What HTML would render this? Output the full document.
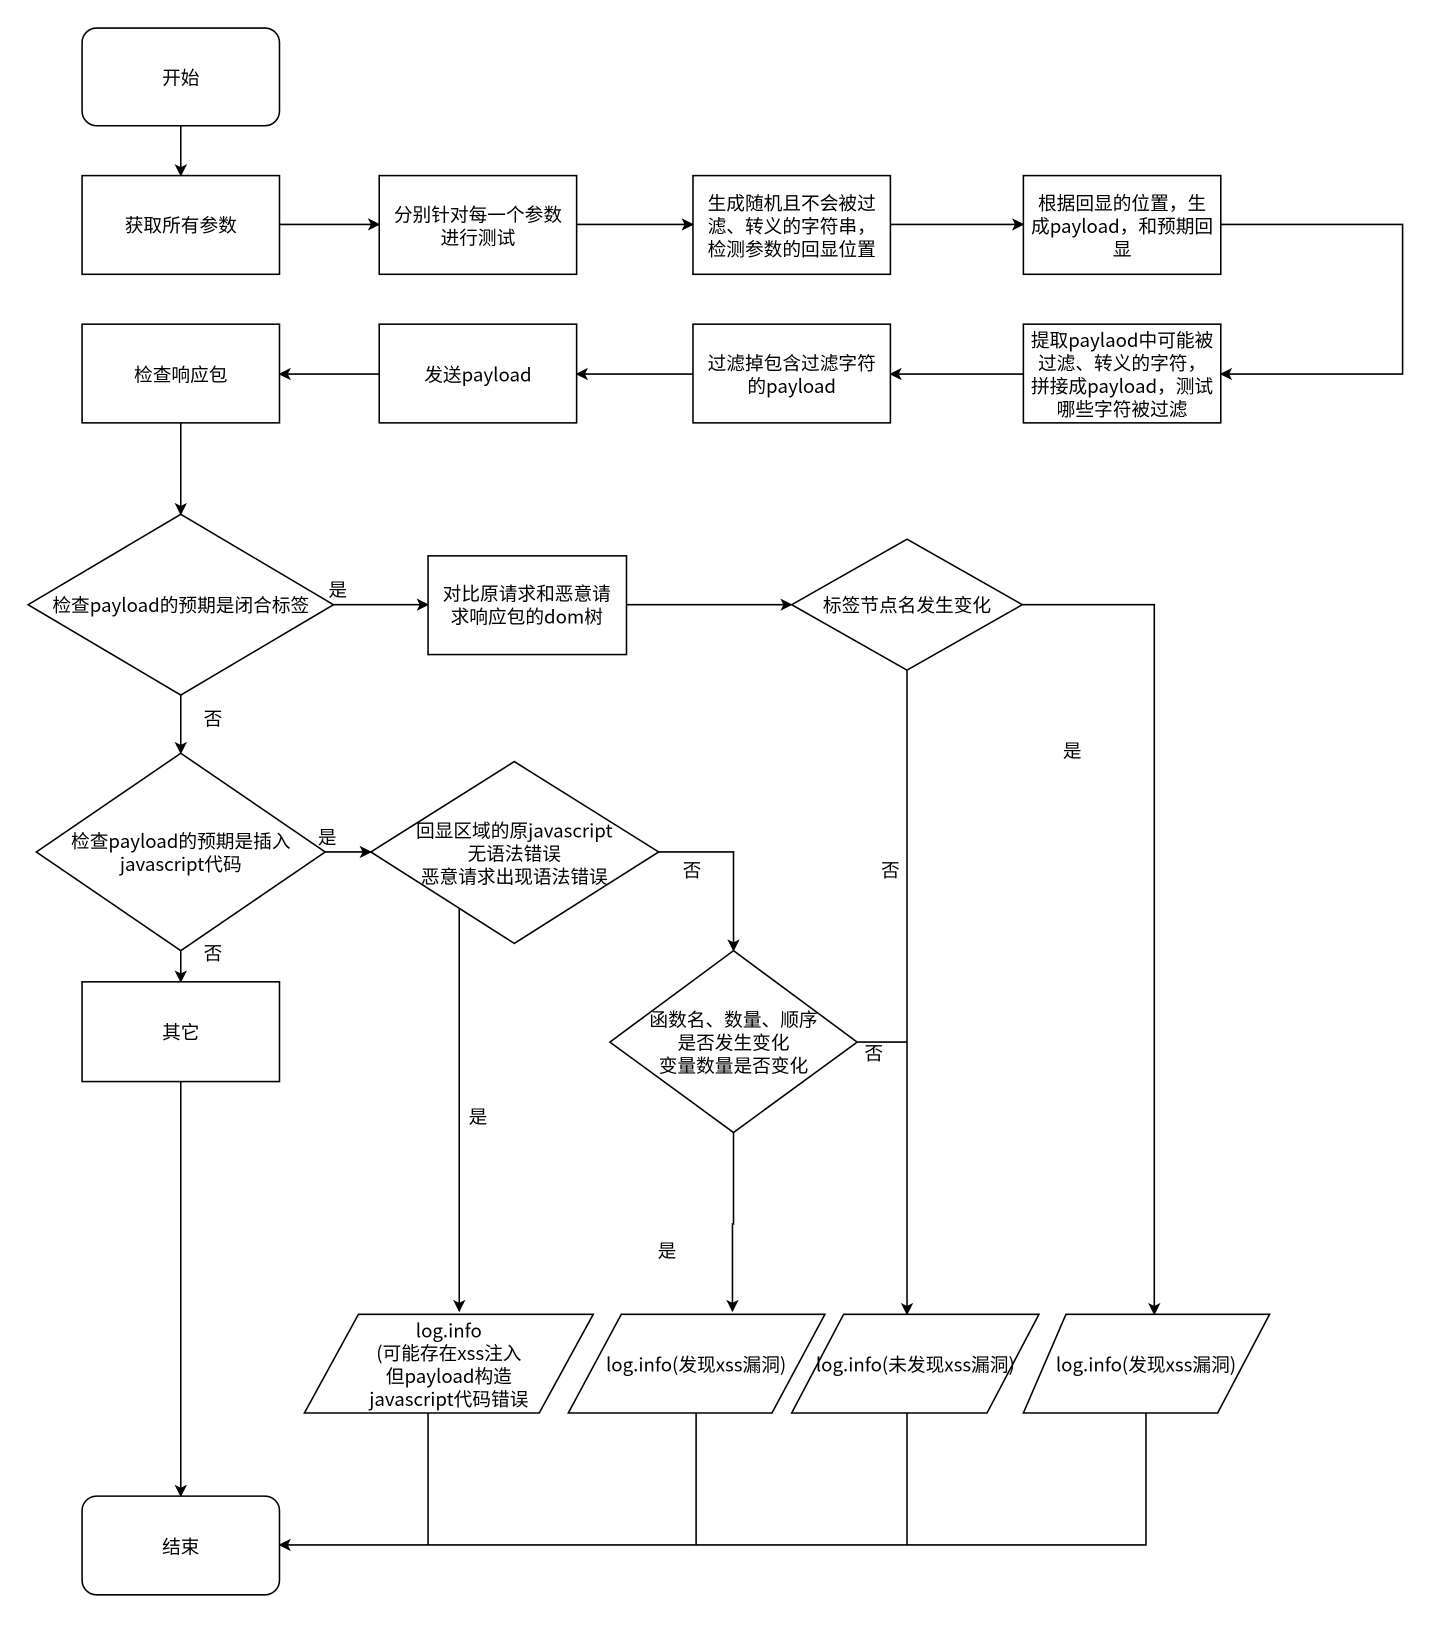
<!DOCTYPE html>
<html><head><meta charset="utf-8"><style>
html,body{margin:0;padding:0;background:#fff;}
svg{display:block;}
text{font-family:"Noto Sans CJK SC","Liberation Sans",sans-serif;font-size:18px;fill:#000;text-anchor:middle;dominant-baseline:central;}
.s{fill:#fff;stroke:#000;stroke-width:1.5;}
.l{fill:none;stroke:#000;stroke-width:1.5;}
</style></head><body>
<svg width="1440" height="1626" viewBox="0 0 1386 1565" xmlns="http://www.w3.org/2000/svg">
<defs><marker id="a" markerWidth="12" markerHeight="12" refX="11" refY="6" orient="auto" markerUnits="userSpaceOnUse"><path d="M0,0 L12,6 L0,12 L3,6 Z" fill="#000"/></marker></defs>
<g class="l" marker-end="url(#a)">
<path d="M174,121 V169"/>
<path d="M269,216 H365"/><path d="M555,216 H667"/><path d="M857,216 H985"/>
<path d="M1175,216 H1350 V360 H1175"/>
<path d="M985,360 H857"/><path d="M667,360 H555"/><path d="M365,360 H269"/>
<path d="M174,407 V495"/>
<path d="M321,582 H412"/><path d="M603,582 H762"/>
<path d="M984,582 H1111 V1265"/>
<path d="M873,645 V1265"/>
<path d="M174,669 V725"/>
<path d="M313,820 H357"/>
<path d="M634,820 H706 V915"/>
<path d="M442,875 V1262"/>
<path d="M174,915 V945"/>
<path d="M174,1041 V1440"/>
<path d="M706,1090 V1178 H705 V1262"/>
<path d="M1103,1360 V1487 H269"/>
</g>
<g class="l">
<path d="M825,1003 H873"/>
<path d="M412,1360 V1487"/><path d="M670,1360 V1487"/><path d="M873,1360 V1487"/>
</g>
<rect class="s" x="79" y="27" width="190" height="94" rx="14"/>
<text x="174" y="74">开始</text>
<rect class="s" x="79" y="169" width="190" height="95"/><text x="174" y="216">获取所有参数</text>
<rect class="s" x="365" y="169" width="190" height="95"/><text x="460" y="206">分别针对每一个参数</text><text x="460" y="228">进行测试</text>
<rect class="s" x="667" y="169" width="190" height="95"/><text x="762" y="195">生成随机且不会被过</text><text x="762" y="217">滤、转义的字符串，</text><text x="762" y="239">检测参数的回显位置</text>
<rect class="s" x="985" y="169" width="190" height="95"/><text x="1080" y="195">根据回显的位置，生</text><text x="1080" y="217">成payload，和预期回</text><text x="1080" y="239">显</text>
<rect class="s" x="79" y="312" width="190" height="95"/><text x="174" y="360">检查响应包</text>
<rect class="s" x="365" y="312" width="190" height="95"/><text x="460" y="360">发送payload</text>
<rect class="s" x="667" y="312" width="190" height="95"/><text x="762" y="349">过滤掉包含过滤字符</text><text x="762" y="371">的payload</text>
<rect class="s" x="985" y="312" width="190" height="95"/><text x="1080" y="327">提取paylaod中可能被</text><text x="1080" y="349">过滤、转义的字符，</text><text x="1080" y="371">拼接成payload，测试</text><text x="1080" y="393">哪些字符被过滤</text>
<polygon class="s" points="174,495 321,582 174,669 27,582"/><text x="174" y="582">检查payload的预期是闭合标签</text>
<rect class="s" x="412" y="535" width="191" height="95"/><text x="507" y="571">对比原请求和恶意请</text><text x="507" y="593">求响应包的dom树</text>
<polygon class="s" points="873,519 984,582 873,645 762,582"/><text x="873" y="582">标签节点名发生变化</text>
<polygon class="s" points="174,725 313,820 174,915 35,820"/><text x="174" y="809">检查payload的预期是插入</text><text x="174" y="831">javascript代码</text>
<polygon class="s" points="495,733 634,820 495,908 357,820"/><text x="495" y="799">回显区域的原javascript</text><text x="495" y="821">无语法错误</text><text x="495" y="843">恶意请求出现语法错误</text>
<polygon class="s" points="706,915 825,1003 706,1090 587,1003"/><text x="706" y="981">函数名、数量、顺序</text><text x="706" y="1003">是否发生变化</text><text x="706" y="1025">变量数量是否变化</text>
<rect class="s" x="79" y="945" width="190" height="96"/><text x="174" y="993">其它</text>
<polygon class="s" points="345,1265 571,1265 519,1360 293,1360"/><text x="432" y="1280">log.info</text><text x="432" y="1302">(可能存在xss注入</text><text x="432" y="1324">但payload构造</text><text x="432" y="1346">javascript代码错误</text>
<polygon class="s" points="598,1265 794,1265 743,1360 547,1360"/><text x="670" y="1313">log.info(发现xss漏洞)</text>
<polygon class="s" points="812,1265 1000,1265 950,1360 762,1360"/><text x="881" y="1313">log.info(未发现xss漏洞)</text>
<polygon class="s" points="1026,1265 1222,1265 1172,1360 985,1360"/><text x="1103" y="1313">log.info(发现xss漏洞)</text>
<rect class="s" x="79" y="1440" width="190" height="95" rx="14"/><text x="174" y="1488">结束</text>
<text x="325" y="567">是</text><text x="205" y="691">否</text><text x="315" y="805">是</text><text x="205" y="917">否</text>
<text x="666" y="837">否</text><text x="857" y="837">否</text><text x="1032" y="722">是</text>
<text x="460" y="1074">是</text><text x="841" y="1013">否</text><text x="642" y="1203">是</text>
</svg>
</body></html>
